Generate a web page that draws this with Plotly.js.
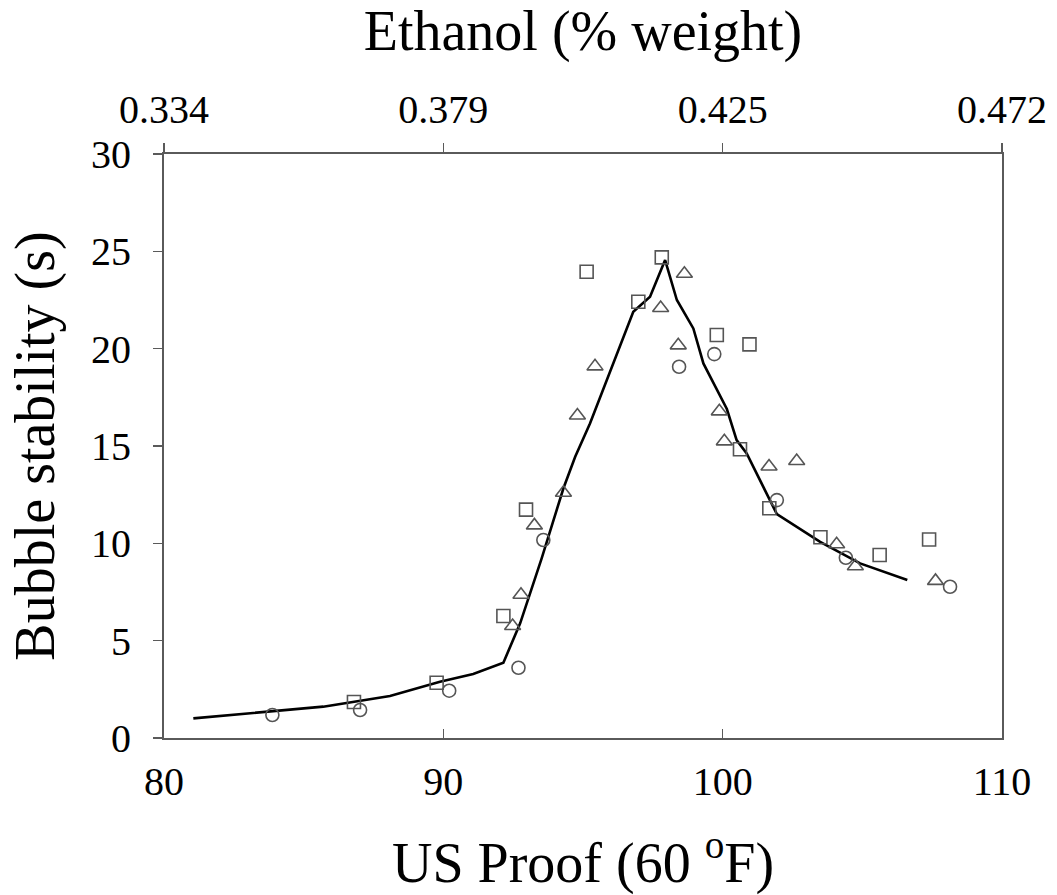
<!DOCTYPE html>
<html>
<head>
<meta charset="utf-8">
<script src="https://cdn.plot.ly/plotly-3.0.1.min.js"></script>
<style>html,body{margin:0;padding:0;background:#fff;}#chart{width:1057px;height:895px;}</style>
</head>
<body>
<div id="chart"></div>
<script>
// Bottom-axis (US Proof) tick values and top-axis (Ethanol weight fraction) labels
const proofTicks = [80, 90, 100, 110];
const ethanolTickLabels = ['0.334', '0.379', '0.425', '0.472'];

// Square series
const squareX = [86.80, 89.76, 92.15, 92.96, 95.13, 96.98, 97.82, 99.79, 100.96, 100.62, 101.67, 103.50, 105.62, 107.39];
const squareY = [1.85, 2.84, 6.27, 11.73, 23.95, 22.41, 24.69, 20.70, 20.22, 14.83, 11.80, 10.31, 9.40, 10.20];

// Triangle series
const triangleX = [92.48, 92.78, 93.26, 94.30, 94.80, 95.43, 97.78, 98.63, 98.41, 99.88, 100.06, 101.66, 102.65, 104.08, 104.75, 107.62];
const triangleY = [5.75, 7.36, 10.92, 12.60, 16.57, 19.09, 22.09, 23.85, 20.17, 16.78, 15.24, 13.95, 14.23, 9.95, 8.82, 8.07];

// Circle series
const circleX = [83.88, 87.02, 90.21, 92.69, 93.58, 98.44, 99.70, 101.94, 104.41, 108.14];
const circleY = [1.18, 1.44, 2.43, 3.61, 10.17, 19.07, 19.72, 12.22, 9.26, 7.77];

// Fitted curve
const curveX = [81.05, 85.70, 88.09, 89.88, 91.07, 92.15, 92.75, 93.52, 94.30, 94.72, 95.25, 95.85, 96.80, 97.40, 97.94, 98.36, 98.95, 99.31, 100.15, 100.50, 100.86, 101.94, 103.49, 104.92, 106.61];
const curveY = [1.01, 1.61, 2.16, 2.89, 3.29, 3.87, 5.89, 9.23, 12.83, 14.45, 16.16, 18.39, 21.90, 22.67, 24.55, 22.50, 21.04, 19.24, 16.90, 15.30, 14.62, 11.50, 10.08, 8.97, 8.12];

const markerLine = {color: '#555555', width: 1.6};
const FONT = '"Liberation Serif", "Times New Roman", serif';

const traces = [
  {x: curveX, y: curveY, mode: 'lines', type: 'scatter', line: {color: '#000000', width: 2.6}, showlegend: false, hoverinfo: 'skip'},
  {x: squareX, y: squareY, mode: 'markers', type: 'scatter', name: 'squares',
   marker: {symbol: 'square-open', size: 13, color: '#555555', line: markerLine}, showlegend: false},
  {x: triangleX, y: triangleY, mode: 'markers', type: 'scatter', name: 'triangles',
   marker: {symbol: 'triangle-up-open', size: 14, color: '#555555', line: markerLine}, showlegend: false},
  {x: circleX, y: circleY, mode: 'markers', type: 'scatter', name: 'circles',
   marker: {symbol: 'circle-open', size: 13, color: '#555555', line: markerLine}, showlegend: false},
  {x: [null], y: [null], xaxis: 'x2', type: 'scatter', mode: 'markers', showlegend: false, hoverinfo: 'skip'}
];

const axisLine = '#5a5a5a';
const layout = {
  width: 1057, height: 895,
  margin: {l: 164, r: 55, t: 154, b: 157, pad: 0},
  paper_bgcolor: '#ffffff', plot_bgcolor: '#ffffff',
  font: {family: FONT, color: '#000000'},
  showlegend: false,
  xaxis: {
    range: [80, 110], tickmode: 'array', tickvals: proofTicks,
    ticks: 'inside', ticklen: 9, tickwidth: 1.5, tickcolor: axisLine,
    showline: true, linecolor: axisLine, linewidth: 2, mirror: false,
    showgrid: false, zeroline: false, automargin: false,
    tickfont: {family: FONT, size: 40, color: '#000'},
    ticklabelstandoff: 7,
    title: {text: 'US Proof (60 <sup>o</sup>F)', font: {family: FONT, size: 56, color: '#000'}, standoff: 49}
  },
  xaxis2: {
    overlaying: 'x', side: 'top', anchor: 'y',
    range: [80, 110], tickmode: 'array', tickvals: proofTicks, ticktext: ethanolTickLabels,
    ticks: 'outside', ticklen: 9, tickwidth: 1.5, tickcolor: axisLine,
    showline: true, linecolor: axisLine, linewidth: 2,
    showgrid: false, zeroline: false, automargin: false,
    tickfont: {family: FONT, size: 40, color: '#000'},
    ticklabelstandoff: 4,
    title: {text: 'Ethanol (% weight)', font: {family: FONT, size: 56, color: '#000'}, standoff: 29}
  },
  yaxis: {
    range: [0, 30], tickmode: 'linear', tick0: 0, dtick: 5,
    ticks: 'outside', ticklen: 9, tickwidth: 1.5, tickcolor: axisLine,
    showline: true, linecolor: axisLine, linewidth: 2, mirror: true,
    showgrid: false, zeroline: false, automargin: false,
    tickfont: {family: FONT, size: 40, color: '#000'},
    ticklabelstandoff: 14,
    title: {text: 'Bubble stability (s)', font: {family: FONT, size: 56, color: '#000'}, standoff: 18}
  }
};

Plotly.newPlot('chart', traces, layout, {staticPlot: true, displayModeBar: false});
</script>
</body>
</html>
